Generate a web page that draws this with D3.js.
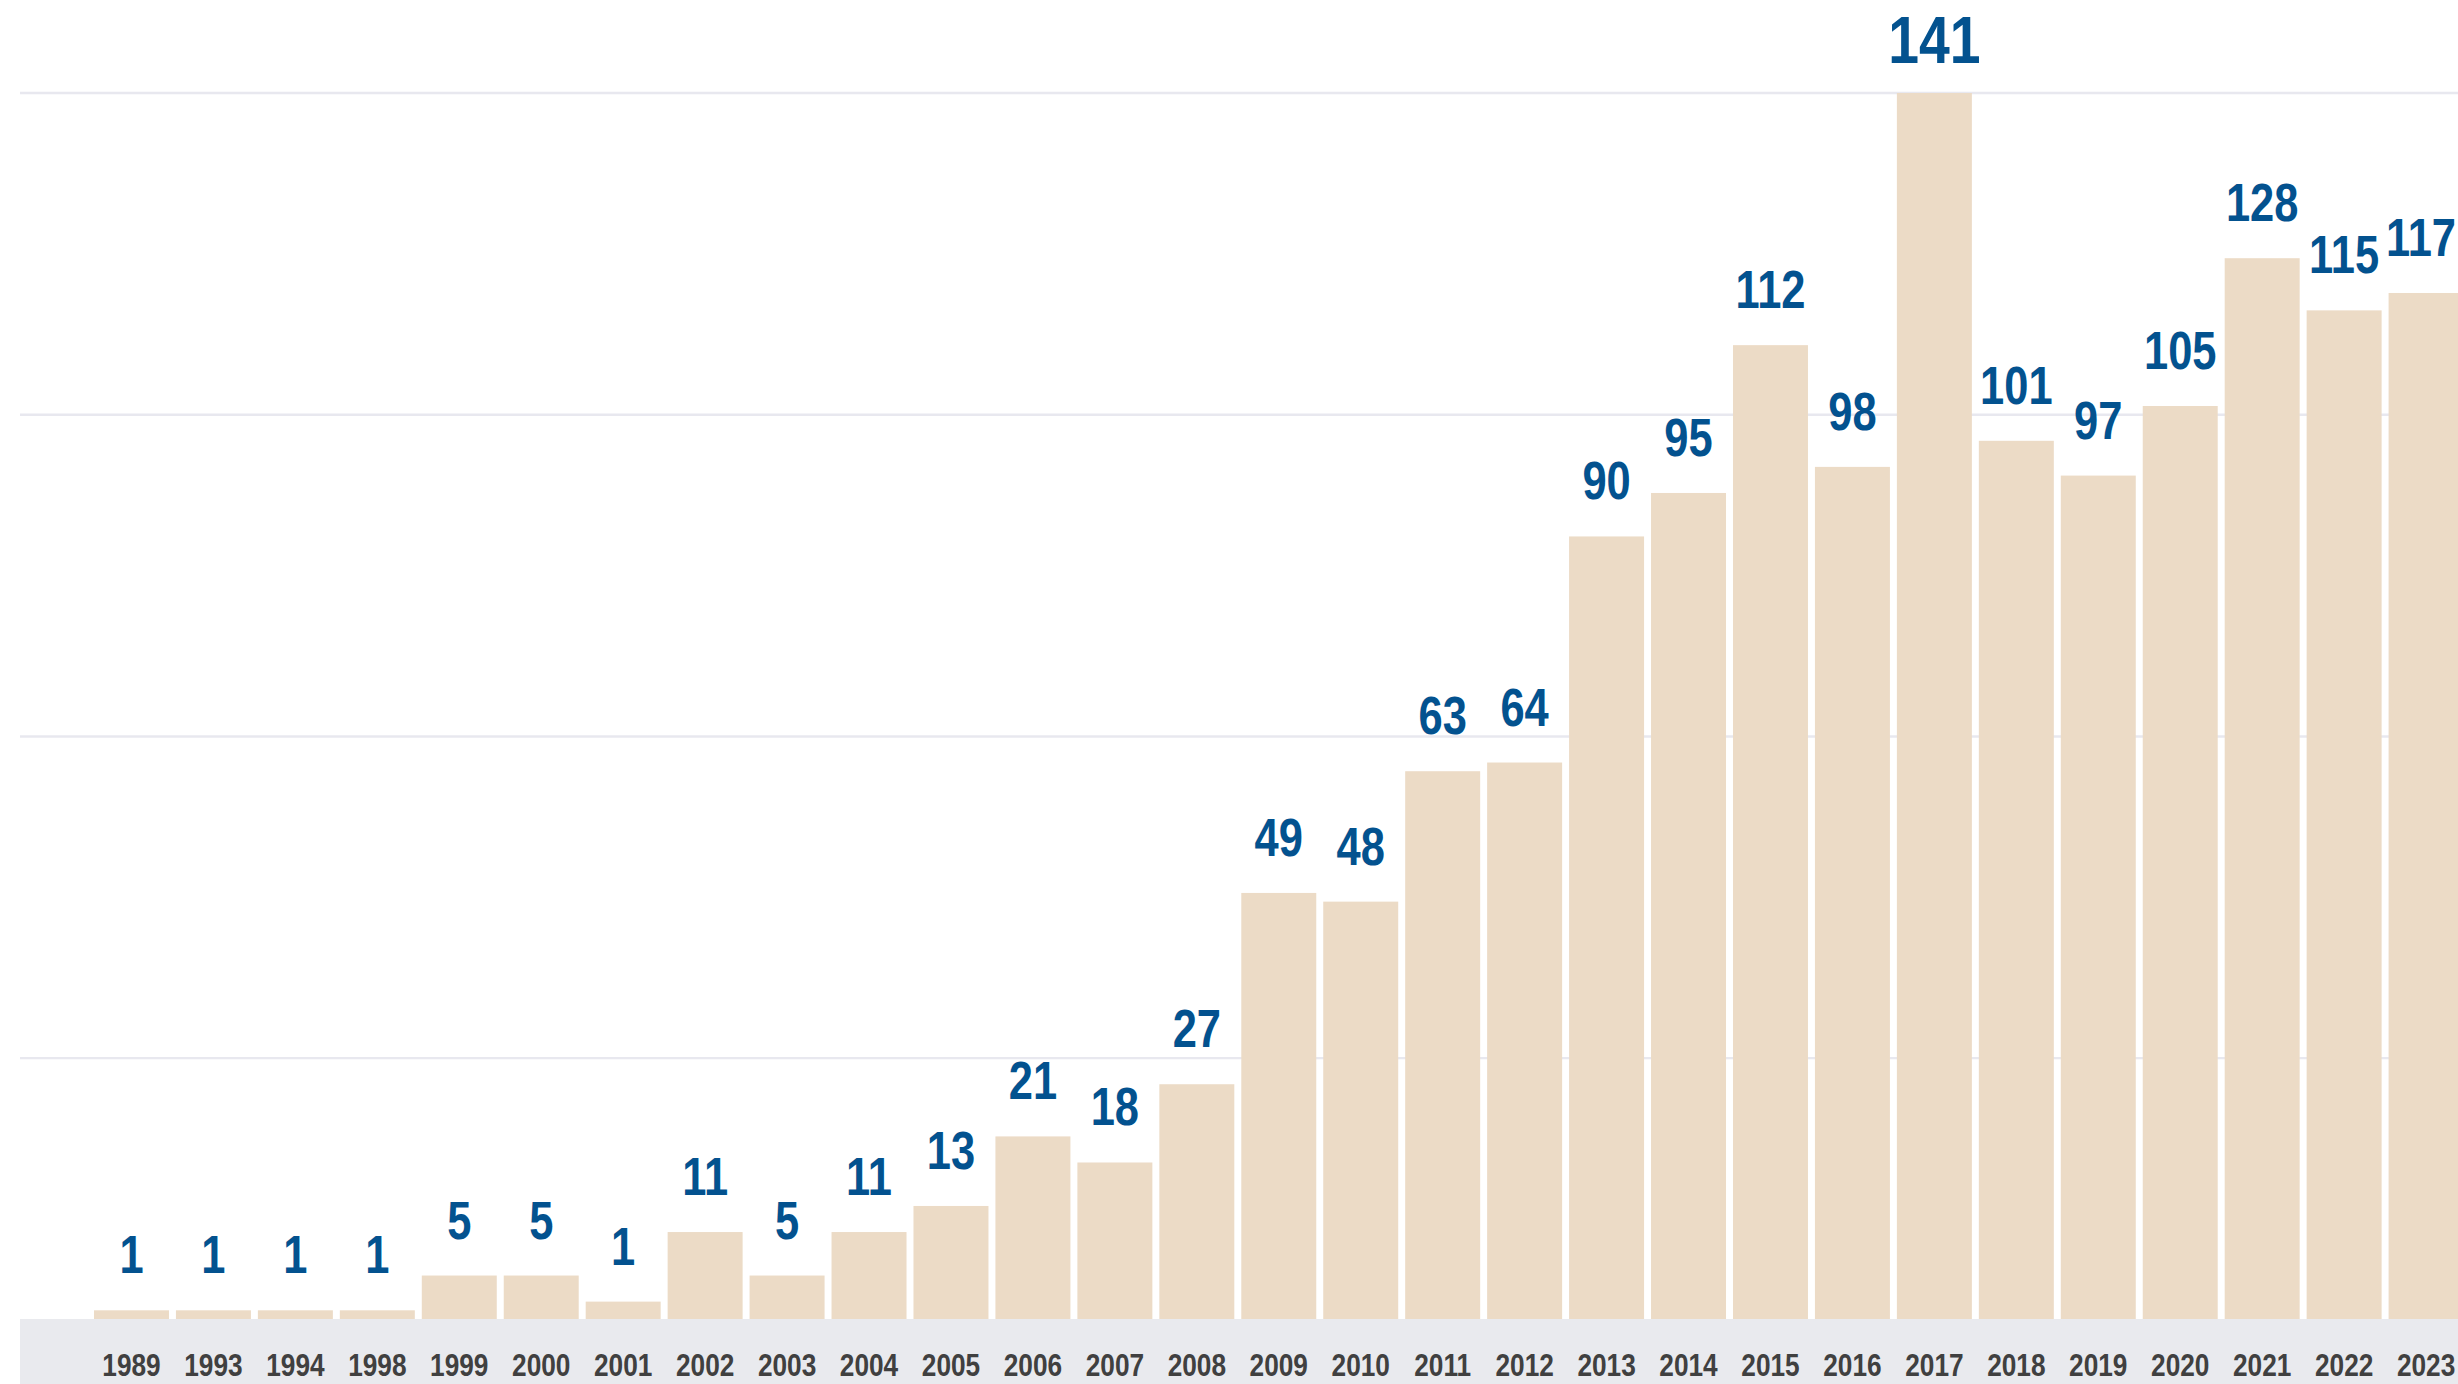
<!DOCTYPE html>
<html>
<head>
<meta charset="utf-8">
<script src="https://cdn.jsdelivr.net/npm/d3@7"></script>
<style>
  html, body { margin: 0; padding: 0; background: #ffffff; }
  svg { display: block; }
  text { font-family: "Liberation Sans", Arial, sans-serif; font-weight: bold; }
</style>
</head>
<body>
<svg id="chart" width="2458" height="1384"></svg>
<script>
// ---- data ----
const years = ["1989","1993","1994","1998","1999","2000","2001","2002","2003","2004","2005","2006","2007","2008","2009","2010","2011","2012","2013","2014","2015","2016","2017","2018","2019","2020","2021","2022","2023"];
// bar heights as drawn in the picture
const barValues = [1,1,1,1,5,5,2,10,5,10,13,21,18,27,49,48,63,64,90,95,112,98,141,101,97,105,122,116,118];
// value labels as printed above the bars
const valueLabels = ["1","1","1","1","5","5","1","11","5","11","13","21","18","27","49","48","63","64","90","95","112","98","141","101","97","105","128","115","117"];
// horizontal gridline values
const gridValues = [30, 67, 104, 141];

// ---- layout ----
const W = 2458, H = 1384;
const baseY = 1319, topY = 93;
const narrow = 0.82; // horizontal squeeze to imitate a condensed face
const svg = d3.select("#chart");

const x = d3.scaleBand()
  .domain(years)
  .range([90.5, 90.5 + 29 * 81.95])
  .paddingInner(0.085)
  .paddingOuter(0.0425);

const y = d3.scaleLinear()
  .domain([0, 141])
  .range([baseY, topY]);

// gridlines
svg.append("g")
  .selectAll("line")
  .data(gridValues)
  .join("line")
  .attr("x1", 20)
  .attr("x2", W)
  .attr("y1", d => y(d))
  .attr("y2", d => y(d))
  .attr("stroke", "#e8e8ef")
  .attr("stroke-width", 2.4);

const data = years.map((yr, i) => ({ year: yr, value: barValues[i], label: valueLabels[i] }));
const maxVal = d3.max(barValues);

// bars
svg.append("g")
  .selectAll("rect")
  .data(data)
  .join("rect")
  .attr("x", d => x(d.year))
  .attr("width", x.bandwidth())
  .attr("y", d => y(d.value))
  .attr("height", d => y(0) - y(d.value))
  .attr("fill", "#ecdbc6");

// bottom band
svg.append("rect")
  .attr("x", 20)
  .attr("y", baseY)
  .attr("width", W - 20)
  .attr("height", H - baseY)
  .attr("fill", "#e9eaee");

// x axis labels
const xAxis = svg.append("g")
  .attr("transform", `translate(0,${baseY})`)
  .call(d3.axisBottom(x).tickSize(0));
xAxis.select(".domain").remove();
xAxis.selectAll("text")
  .attr("y", 0)
  .attr("dy", 0)
  .attr("transform", `translate(0,57) scale(${narrow},1)`)
  .attr("fill", "#404040")
  .style("font-size", "32px")
  .style("font-family", "\"Liberation Sans\", Arial, sans-serif")
  .style("font-weight", "bold");

// value labels
const labels = svg.append("g")
  .selectAll("text")
  .data(data)
  .join("text")
  .attr("text-anchor", "middle")
  .attr("fill", "#03528f")
  .style("font-size", d => d.value === maxVal ? "67.5px" : "53px")
  .text(d => d.label);

labels.each(function(d) {
  let cx = x(d.year) + x.bandwidth() / 2;
  const cy = y(d.value) - (d.value === maxVal ? 30 : 37);
  const bb = this.getBBox();
  const right = cx + (bb.x + bb.width) * narrow;
  if (right > W - 2) cx -= right - (W - 2);
  d3.select(this).attr("transform", `translate(${cx},${cy}) scale(${narrow},1)`);
});
</script>
</body>
</html>
